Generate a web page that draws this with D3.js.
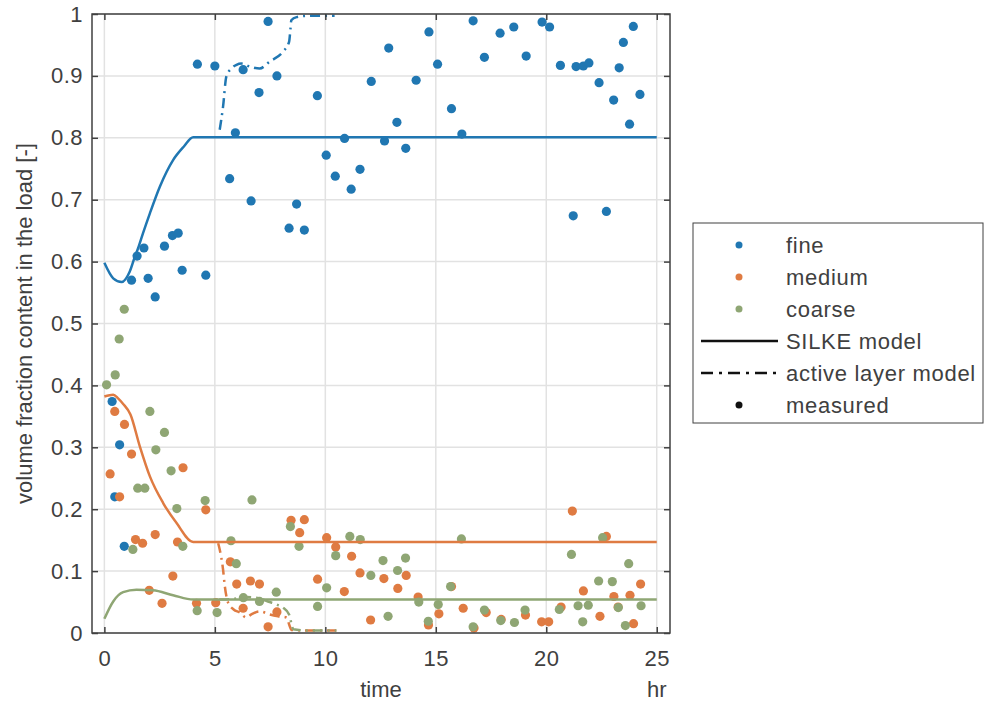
<!DOCTYPE html>
<html>
<head>
<meta charset="utf-8">
<script src="https://cdn.jsdelivr.net/npm/d3@7"></script>
<style>
  body { margin: 0; background: #fff; }
  text { font-family: "Liberation Sans", Arial, Helvetica, sans-serif; fill: #404040; }
</style>
</head>
<body>
<div id="chart"></div>
<script>
var W = 987, H = 702;
var margin = {left: 92, top: 14, right: 317, bottom: 69};

// measured points [time, fraction]
var fineMeasured = [
  [0.35,0.374],[0.47,0.220],[0.69,0.304],[0.90,0.140],[1.23,0.570],[1.48,0.609],[1.79,0.622],
  [1.98,0.573],[2.30,0.543],[2.72,0.625],[3.08,0.642],[3.34,0.646],[3.52,0.586],[4.21,0.919],
  [4.59,0.578],[5.00,0.916],[5.67,0.734],[5.93,0.808],[6.28,0.910],[6.64,0.698],[7.00,0.873],
  [7.41,0.988],[7.81,0.900],[8.36,0.654],[8.70,0.693],[9.05,0.651],[9.64,0.868],[10.04,0.772],
  [10.45,0.738],[10.87,0.799],[11.17,0.717],[11.57,0.749],[12.08,0.891],[12.68,0.795],[12.87,0.945],
  [13.24,0.825],[13.64,0.783],[14.11,0.893],[14.69,0.971],[15.08,0.919],[15.71,0.847],[16.18,0.806],
  [16.69,0.989],[17.20,0.930],[17.91,0.969],[18.53,0.979],[19.09,0.932],[19.81,0.987],[20.15,0.979],
  [20.64,0.917],[21.22,0.674],[21.35,0.915],[21.68,0.916],[21.93,0.921],[22.39,0.889],[22.72,0.681],
  [23.05,0.861],[23.30,0.913],[23.49,0.954],[23.77,0.822],[23.94,0.980],[24.24,0.870]
];
var mediumMeasured = [
  [0.26,0.257],[0.47,0.358],[0.69,0.220],[0.91,0.337],[1.23,0.289],[1.41,0.151],[1.73,0.145],
  [2.03,0.069],[2.30,0.159],[2.61,0.048],[3.10,0.092],[3.31,0.147],[3.56,0.267],[4.17,0.048],
  [4.59,0.199],[5.04,0.049],[5.70,0.115],[5.99,0.079],[6.28,0.040],[6.61,0.084],[7.02,0.079],
  [7.41,0.010],[7.81,0.034],[8.45,0.182],[8.84,0.162],[9.05,0.183],[9.65,0.087],[10.06,0.154],
  [10.47,0.139],[10.86,0.067],[11.19,0.124],[11.57,0.097],[12.05,0.021],[12.65,0.088],[13.28,0.072],
  [13.66,0.093],[14.20,0.058],[14.67,0.013],[15.14,0.031],[15.71,0.075],[16.24,0.040],[16.73,0.008],
  [17.28,0.033],[17.96,0.022],[19.06,0.029],[19.79,0.018],[20.11,0.018],[20.67,0.042],[21.18,0.197],
  [21.68,0.068],[22.43,0.027],[22.72,0.156],[23.06,0.059],[23.25,0.042],[23.79,0.061],[23.95,0.015],
  [24.27,0.079]
];
var coarseMeasured = [
  [0.10,0.401],[0.49,0.417],[0.67,0.475],[0.90,0.523],[1.29,0.135],[1.51,0.234],[1.83,0.234],
  [2.06,0.358],[2.33,0.296],[2.72,0.324],[3.02,0.262],[3.28,0.201],[3.55,0.140],[4.20,0.036],
  [4.56,0.214],[5.10,0.033],[5.73,0.149],[5.97,0.112],[6.29,0.057],[6.68,0.215],[7.02,0.051],
  [7.78,0.066],[8.42,0.172],[8.81,0.140],[9.65,0.043],[10.06,0.073],[10.47,0.125],[11.11,0.156],
  [11.58,0.151],[12.06,0.093],[12.61,0.117],[12.84,0.027],[13.27,0.101],[13.63,0.121],[14.23,0.050],
  [14.66,0.019],[15.11,0.046],[15.67,0.075],[16.16,0.152],[16.69,0.010],[17.20,0.037],[17.94,0.020],
  [18.56,0.017],[19.04,0.037],[20.59,0.038],[21.14,0.127],[21.44,0.044],[21.65,0.018],[21.90,0.045],
  [22.37,0.084],[22.55,0.154],[22.99,0.083],[23.26,0.041],[23.58,0.012],[23.73,0.112],[24.29,0.044]
];

// SILKE model (solid)
var fineSilke = [[0,0.598],[0.40,0.573],[0.78,0.567],[1.15,0.584],[1.38,0.608],[1.53,0.622],[1.75,0.646],
  [2.06,0.678],[2.51,0.721],[3.11,0.764],[3.60,0.786],[4.02,0.801],[25,0.801]];
var mediumSilke = [[0,0.382],[0.40,0.385],[0.62,0.379],[0.85,0.370],[1.18,0.353],[1.60,0.302],[2.06,0.253],
  [2.66,0.210],[3.26,0.178],[4.02,0.147],[25,0.147]];
var coarseSilke = [[0,0.023],[0.40,0.051],[0.85,0.066],[1.45,0.070],[2.20,0.069],[3.11,0.061],[4.02,0.054],[25,0.054]];

// active layer model (dash-dot)
var fineActive = [[5.22,0.813],[5.37,0.850],[5.52,0.899],[5.75,0.912],[5.98,0.918],[6.20,0.920],[6.58,0.915],
  [7.03,0.912],[7.48,0.923],[8.08,0.939],[8.36,0.955],[8.42,0.975],[8.46,0.990],[8.70,0.995],[9.14,0.997],[10.42,0.997]];
var mediumActive = [[5.15,0.145],[5.22,0.135],[5.37,0.103],[5.45,0.076],[5.60,0.049],[5.85,0.038],[6.13,0.033],
  [6.43,0.025],[6.65,0.030],[7.03,0.035],[7.48,0.030],[7.86,0.027],[8.24,0.025],[8.39,0.011],[8.46,0.005],
  [9.14,0.004],[10.5,0.004]];
var coarseActive = [[5.20,0.054],[5.80,0.055],[6.43,0.058],[6.88,0.057],[7.48,0.050],[7.80,0.046],[8.08,0.041],
  [8.36,0.030],[8.46,0.016],[8.55,0.006],[9.14,0.004],[10.5,0.004]];

var xTicks = [0, 5, 10, 15, 20, 25];
var yTicks = [0, 0.1, 0.2, 0.3, 0.4, 0.5, 0.6, 0.7, 0.8, 0.9, 1];

var colors = {fine: "#2077b2", medium: "#df7b42", coarse: "#8fa674"};
var legendItems = [
  {label: "fine", type: "dot", color: colors.fine},
  {label: "medium", type: "dot", color: colors.medium},
  {label: "coarse", type: "dot", color: colors.coarse},
  {label: "SILKE model", type: "solid", color: "#111"},
  {label: "active layer model", type: "dashdot", color: "#111"},
  {label: "measured", type: "dot", color: "#111"}
];

var svg = d3.select("#chart").append("svg")
    .attr("width", W)
    .attr("height", H);

var plotW = W - margin.left - margin.right,
    plotH = H - margin.top - margin.bottom;

var x = d3.scaleLinear().domain([-0.56, 25.6]).range([margin.left, margin.left + plotW]);
var y = d3.scaleLinear().domain([0, 1]).range([margin.top + plotH, margin.top]);

// grid
var grid = svg.append("g").attr("class", "grid");
grid.selectAll(".vg").data(xTicks).enter().append("line")
    .attr("x1", function(d) { return x(d); }).attr("x2", function(d) { return x(d); })
    .attr("y1", y(0)).attr("y2", y(1))
    .attr("stroke", "#e2e2e2").attr("stroke-width", 1.5);
grid.selectAll(".hg").data(yTicks).enter().append("line")
    .attr("y1", function(d) { return y(d); }).attr("y2", function(d) { return y(d); })
    .attr("x1", x.range()[0]).attr("x2", x.range()[1])
    .attr("stroke", "#e2e2e2").attr("stroke-width", 1.5);

var line = d3.line()
    .x(function(d) { return x(d[0]); })
    .y(function(d) { return y(d[1]); })
    .curve(d3.curveMonotoneX);

var plot = svg.append("g");

function drawLine(data, color, dash) {
  plot.append("path")
      .datum(data)
      .attr("d", line)
      .attr("fill", "none")
      .attr("stroke", color)
      .attr("stroke-width", 2.5)
      .attr("stroke-dasharray", dash || null);
}

function drawDots(data, color) {
  plot.append("g").selectAll("circle")
    .data(data)
    .enter().append("circle")
      .attr("cx", function(d) { return x(d[0]); })
      .attr("cy", function(d) { return y(d[1]); })
      .attr("r", 4.6)
      .attr("fill", color);
}

drawDots(fineMeasured, colors.fine);
drawDots(mediumMeasured, colors.medium);
drawDots(coarseMeasured, colors.coarse);

drawLine(fineSilke, colors.fine);
drawLine(mediumSilke, colors.medium);
drawLine(coarseSilke, colors.coarse);

var dd = "10,5,2,5";
drawLine(fineActive, colors.fine, dd);
drawLine(mediumActive, colors.medium, dd);
drawLine(coarseActive, colors.coarse, dd);

// axes (ticks inward, box)
var axisColor = "#404040";
svg.append("rect")
    .attr("x", x.range()[0]).attr("y", y(1))
    .attr("width", plotW).attr("height", plotH)
    .attr("fill", "none").attr("stroke", axisColor).attr("stroke-width", 1.5);

var xAxisB = d3.axisBottom(x).tickValues(xTicks).tickSizeInner(-6).tickSizeOuter(0).tickPadding(17);
var xAxisT = d3.axisTop(x).tickValues(xTicks).tickSizeInner(-6).tickSizeOuter(0).tickFormat("");
var yAxisL = d3.axisLeft(y).tickValues(yTicks).tickSizeInner(-6).tickSizeOuter(0).tickPadding(9)
    .tickFormat(function(d) { return d === 0 || d === 1 ? d3.format("d")(d) : d3.format(".1f")(d); });
var yAxisR = d3.axisRight(y).tickValues(yTicks).tickSizeInner(-6).tickSizeOuter(0).tickFormat("");

function styleAxis(g) {
  g.select(".domain").remove();
  g.selectAll(".tick line").attr("stroke", axisColor).attr("stroke-width", 1.5);
  g.selectAll(".tick text").attr("fill", axisColor).style("font-size", "22px")
    .style("letter-spacing", "0.5px")
    .style("font-family", "'Liberation Sans', Arial, sans-serif");
}

svg.append("g").attr("transform", "translate(0," + y(0) + ")").call(xAxisB).call(styleAxis);
svg.append("g").attr("transform", "translate(0," + y(1) + ")").call(xAxisT).call(styleAxis);
svg.append("g").attr("transform", "translate(" + x.range()[0] + ",0)").call(yAxisL).call(styleAxis);
svg.append("g").attr("transform", "translate(" + x.range()[1] + ",0)").call(yAxisR).call(styleAxis);

// axis labels
svg.append("text")
    .attr("x", 381)
    .attr("y", 697)
    .attr("text-anchor", "middle")
    .style("font-size", "22px")
    .text("time");
svg.append("text")
    .attr("x", x(25))
    .attr("y", 697)
    .attr("text-anchor", "middle")
    .style("font-size", "22px")
    .text("hr");
svg.append("text")
    .attr("transform", "translate(32," + ((y(0) + y(1)) / 2) + ") rotate(-90)")
    .attr("text-anchor", "middle")
    .style("font-size", "22px")
    .text("volume fraction content in the load [-]");

// legend
var lg = svg.append("g").attr("transform", "translate(693,223)");
lg.append("rect")
    .attr("width", 290).attr("height", 200)
    .attr("fill", "#fff").attr("stroke", "#404040").attr("stroke-width", 1);

var rows = lg.selectAll(".row").data(legendItems).enter().append("g")
    .attr("transform", function(d, i) { return "translate(0," + (22 + i * 32) + ")"; });

rows.each(function(d) {
  var g = d3.select(this);
  if (d.type === "dot") {
    g.append("circle").attr("cx", 46).attr("cy", 0).attr("r", 3.5).attr("fill", d.color);
  } else {
    g.append("line").attr("x1", 8).attr("x2", 85).attr("y1", 0).attr("y2", 0)
      .attr("stroke", d.color).attr("stroke-width", 2.5)
      .attr("stroke-dasharray", d.type === "dashdot" ? "12,6,3,6" : null);
  }
  g.append("text")
    .attr("x", 93).attr("y", 0).attr("dy", "0.35em")
    .style("font-size", "22px")
    .style("letter-spacing", "0.7px")
    .attr("fill", "#222")
    .text(d.label);
});
</script>
</body>
</html>
